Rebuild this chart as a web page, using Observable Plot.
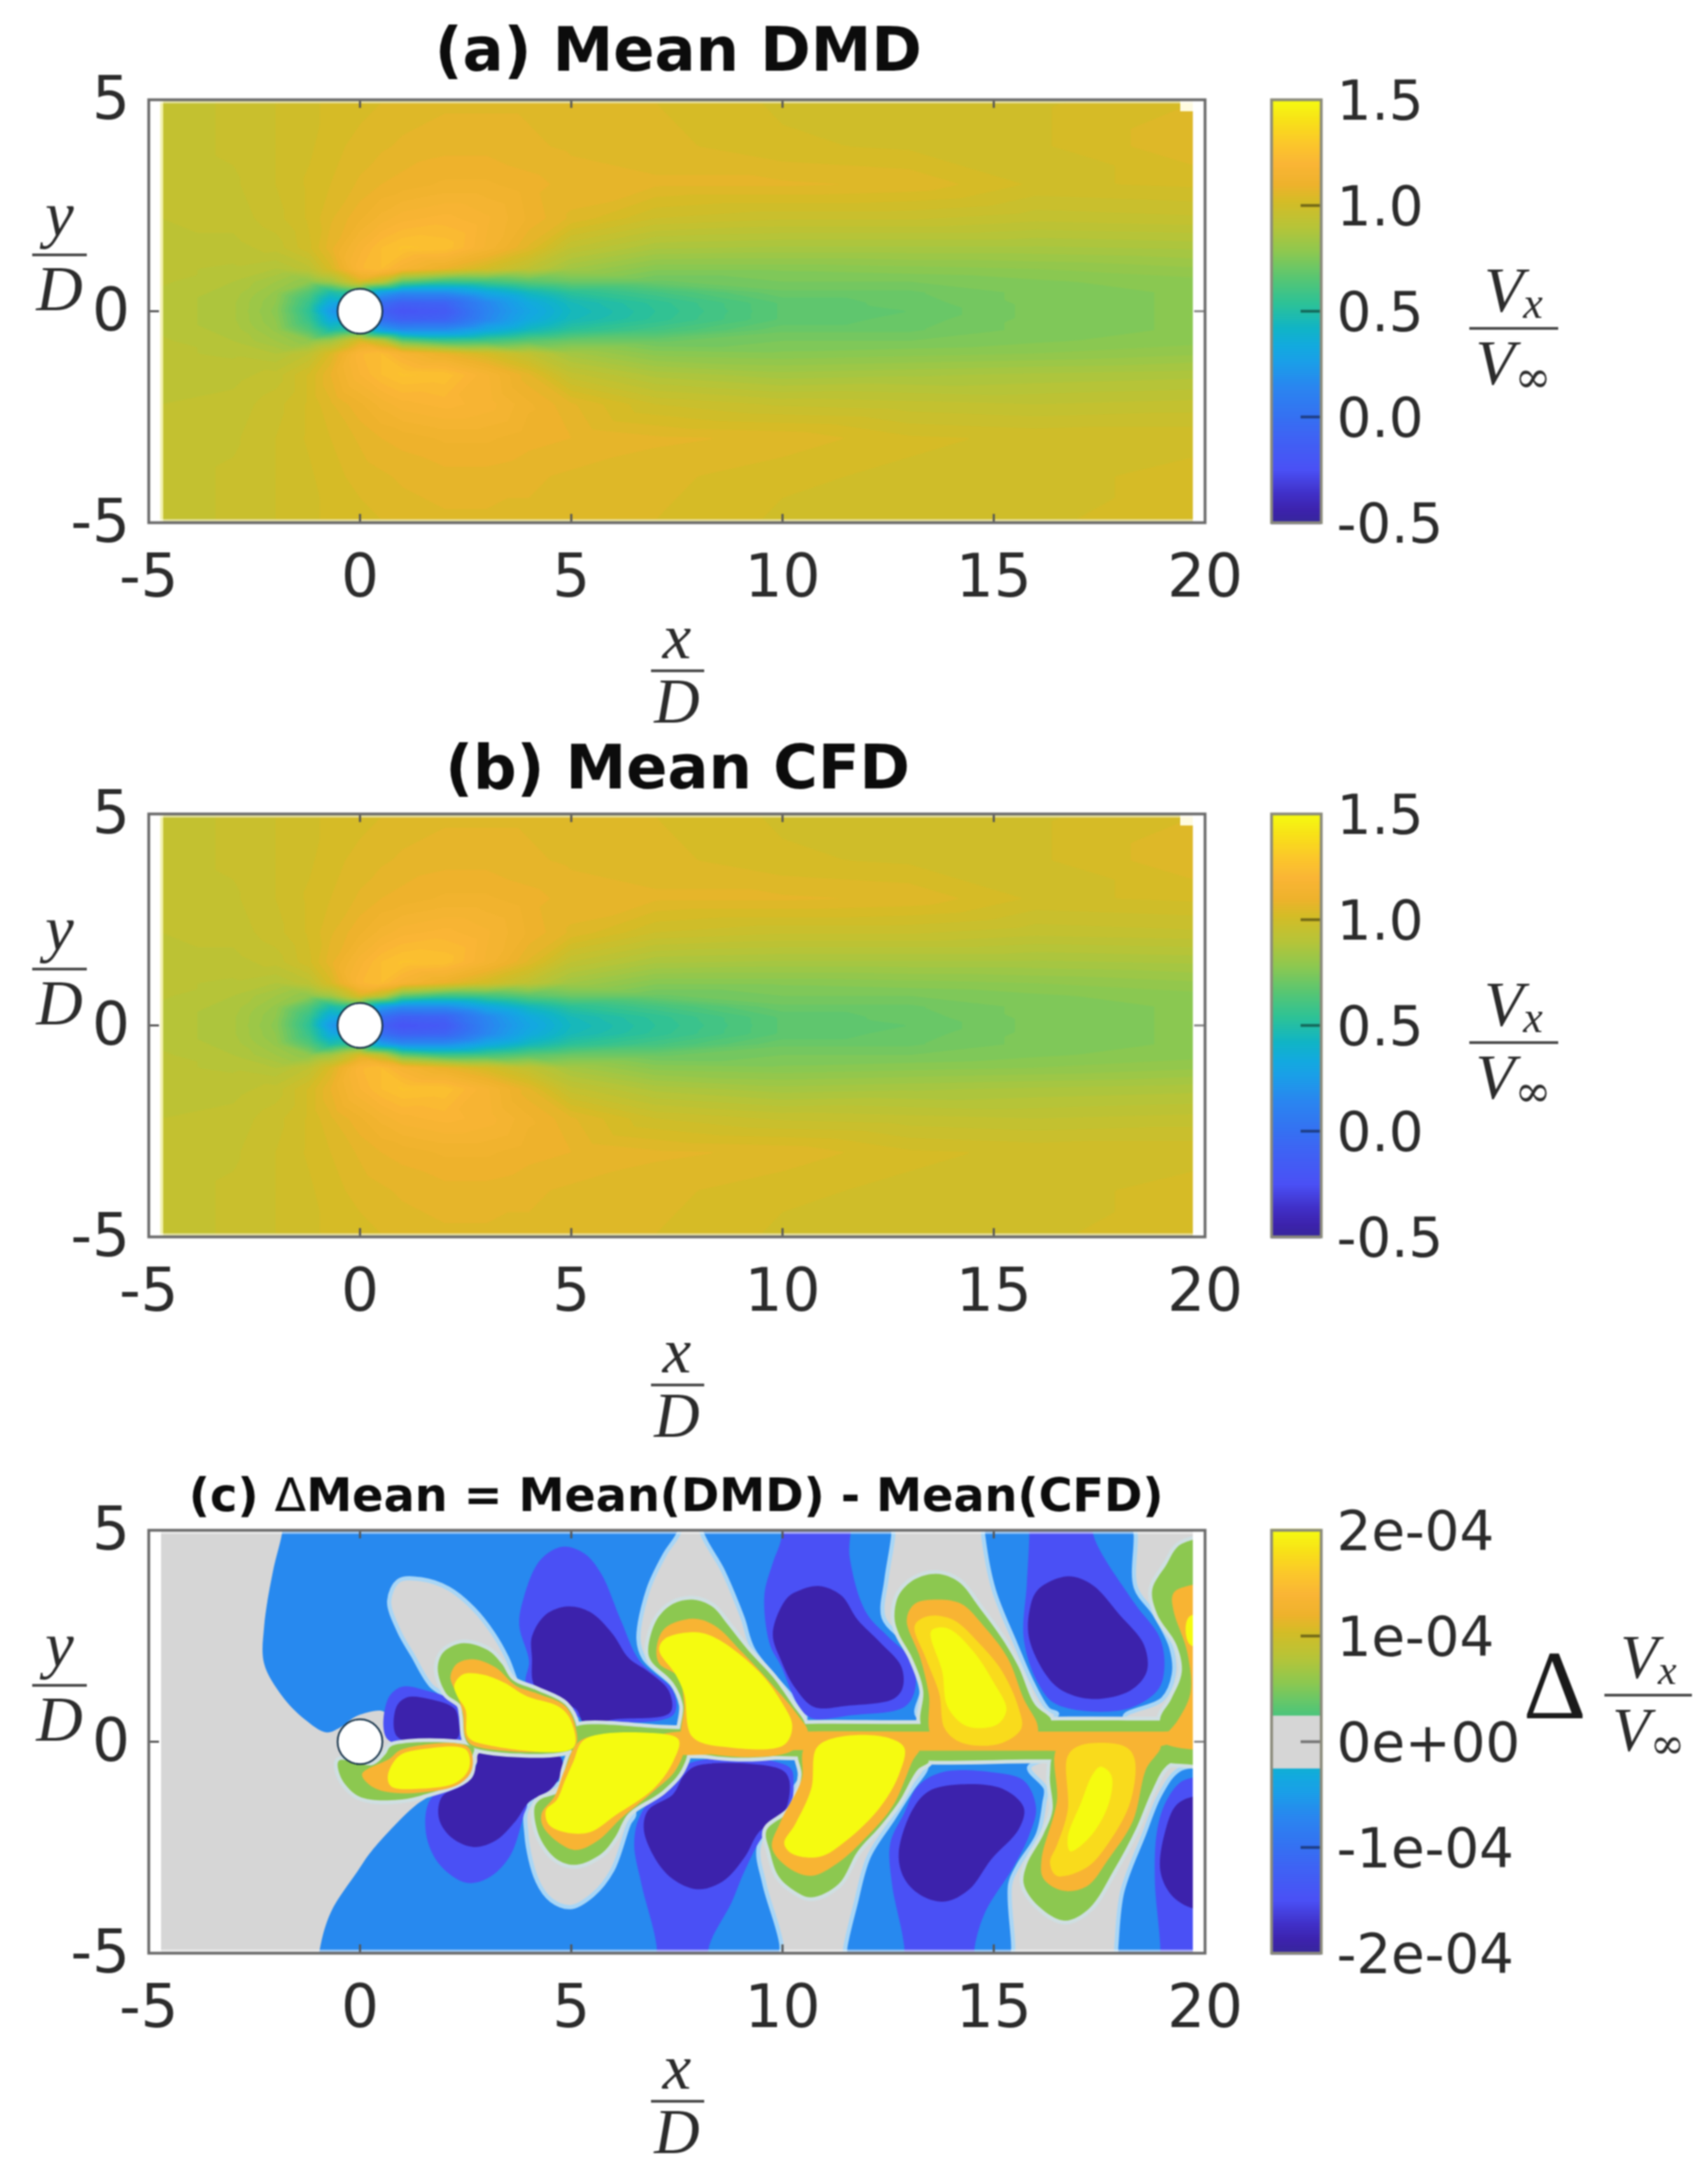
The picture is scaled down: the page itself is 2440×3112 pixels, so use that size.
<!DOCTYPE html>
<html><head><meta charset="utf-8">
<script src="https://cdn.jsdelivr.net/npm/d3@7"></script>
<script src="https://cdn.jsdelivr.net/npm/@observablehq/plot@0.6"></script>
<style>
html,body{margin:0;padding:0;background:#fff}
#page{position:relative;width:2440px;height:3112px;overflow:hidden;filter:blur(1.1px)}
#page svg{position:absolute;overflow:visible;background:transparent}
.t{position:absolute;white-space:nowrap;transform:translateX(-50%);color:#2b2b2b}
.title{font-family:"DejaVu Sans";font-weight:bold;color:#0c0c0c}
.m{font-family:"Liberation Serif";font-style:italic}
.bar{position:absolute;background:#4a4a4a;height:4px}
</style></head><body><div id="page"></div>
<script>
// ---------- axes ----------
const xTicks=[-5,0,5,10,15,20];
const yTicks=[-5,0,5];
const meanTicks=[-0.5,0,0.5,1,1.5];
const meanLabels=["-0.5","0.0","0.5","1.0","1.5"];
const deltaTicks=[-2e-4,-1e-4,0,1e-4,2e-4];
const deltaLabels=["-2e-04","-1e-04","0e+00","1e-04","2e-04"];
// ---------- colormap stops (fraction of the colour bar, colour) ----------
const cmapT=[0,0.03,0.07,0.125,0.2,0.25,0.32,0.38,0.42,0.46,0.52,0.58,0.64,0.7,0.76,0.8,0.85,0.9,0.95,1];
const cmapC=["#36269a","#3c22ac","#4030c8","#4a50f5","#3f62f4","#3570f2","#2a85f0","#1a9ee8","#12aade","#10b4c6","#2dc296","#58c672","#8cc850","#b6c438","#d4bc26","#eeb22c","#fab535","#fbc82a","#f8e018","#f5fb10"];
// ---------- panels (a), (b): mean velocity read on a non-uniform grid ----------
const fieldXs=[-4.7,-3,-2,-1.2,-0.7,0,0.5,1,2,3,4,5,7,10,13,16,19.73];
const fieldYs=[4.93,3.9,3,2.2,1.5,1,0.7,0.45,0.2,0,-0.2,-0.45,-0.7,-1,-1.5,-2.2,-3,-3.9,-4.93];
const row01=[.96,.98,1.00,1.02,1.03,1.04,1.05,1.06,1.07,1.07,1.07,1.06,1.05,1.02,1.02,1.02,1.05];
const row02=[.96,.98,1.00,1.02,1.04,1.06,1.07,1.08,1.09,1.09,1.08,1.07,1.06,1.03,1.02,1.02,1.07];
const row03=[.96,.97,1.00,1.03,1.05,1.08,1.10,1.11,1.13,1.13,1.11,1.09,1.08,1.08,1.07,1.02,1.03];
const row04=[.95,.96,.99,1.03,1.07,1.12,1.16,1.19,1.21,1.18,1.12,1.07,1.00,.98,.98,.96,.97];
const row05=[.94,.94,.96,1.02,1.09,1.19,1.25,1.28,1.27,1.17,1.07,.95,.88,.87,.87,.87,.88];
const row06=[.93,.92,.90,.94,1.04,1.22,1.25,1.18,1.10,1.02,.94,.85,.78,.78,.79,.80,.82];
const row07=[.93,.90,.85,.80,.85,1.05,.95,.70,.60,.62,.68,.72,.72,.75,.75,.77,.79];
const row08=[.92,.89,.82,.66,.50,.60,.30,.20,.20,.34,.46,.55,.62,.72,.72,.76,.78];
const row09=[.92,.88,.80,.58,.35,.20,.00,-.10,-.08,.16,.35,.47,.56,.68,.71,.76,.78];
const row10=[.92,.88,.79,.55,.25,.00,-.10,-.20,-.15,.14,.32,.45,.55,.68,.70,.76,.78];
const row11=[.92,.88,.80,.58,.35,.20,.00,-.10,-.08,.16,.35,.47,.56,.68,.71,.76,.78];
const row12=[.92,.89,.82,.66,.50,.60,.30,.20,.20,.34,.46,.55,.62,.72,.72,.76,.78];
const row13=[.93,.90,.85,.80,.85,1.05,.95,.70,.60,.62,.68,.72,.72,.75,.75,.77,.79];
const row14=[.93,.92,.90,.95,1.05,1.22,1.25,1.18,1.10,1.03,.95,.86,.79,.78,.79,.80,.82];
const row15=[.94,.94,.96,1.03,1.10,1.20,1.25,1.28,1.27,1.18,1.08,.96,.89,.86,.87,.88,.89];
const row16=[.95,.96,.99,1.03,1.07,1.12,1.16,1.19,1.21,1.19,1.13,1.08,1.00,.97,.96,.95,.96];
const row17=[.96,.97,1.00,1.03,1.05,1.08,1.10,1.11,1.13,1.13,1.11,1.10,1.08,1.07,1.03,1.02,1.02];
const row18=[.96,.98,1.00,1.02,1.04,1.06,1.07,1.08,1.09,1.09,1.08,1.07,1.06,1.03,1.02,1.02,1.03];
const row19=[.96,.98,1.00,1.02,1.03,1.04,1.05,1.06,1.07,1.07,1.07,1.06,1.05,1.02,1.02,1.02,1.04];
const fieldRows=[row01,row02,row03,row04,row05,row06,row07,row08,row09,row10,row11,row12,row13,row14,row15,row16,row17,row18,row19];
// ---------- panel (c): filled contour regions, [x,y] ----------
const blueTop=[[-1.75,5.6],[-1.85,4.9],[-2.06,4.03],[-2.27,2.72],[-2.27,1.85],[-1.85,1.09],[-1.32,.54],[-.79,.22],[-.48,.33],[-.05,.62],[.58,.7],[.64,.09],[3,.06],[12,.06],[21,.06],[21,5.6]];
const blueBottom=[[-1,-5.6],[-.95,-4.9],[-.69,-4.03],[-.05,-3.05],[.27,-2.59],[1.25,-1.56],[1.7,-1.25],[2.7,-.6],[3,-.1],[12,-.1],[21,-.1],[21,-5.6]];
const grayT1=[[.69,3.33],[.92,3.81],[1.45,3.84],[2.1,3.62],[2.69,3.14],[3.15,2.56],[3.48,1.98],[3.74,1.33],[3.9,1.1],[3.2,.6],[2.4,.5],[2.17,.98],[1.68,1.33],[1.25,2.04],[.92,2.62]];
const grayT2=[[7.6,5.7],[7.57,5],[7.21,4.42],[6.82,3.59],[6.59,2.43],[6.72,1.98],[7.35,1.4],[8,.8],[10.5,.5],[10.54,.63],[9.31,2.17],[9.05,2.94],[8.59,4.04],[8.07,5],[8.05,5.7]];
const grayT3=[[12.65,5.7],[12.62,4.87],[12.46,3.84],[12.39,2.94],[12.81,2.43],[13.2,1.78],[13.3,1.21],[13.2,.6],[16,.4],[16.5,.66],[16.29,.76],[15.91,1.4],[15.52,2.3],[15,3.59],[14.75,4.87],[14.7,5.7]];
const grayT4=[[18.3,5.7],[18.36,4.87],[18.36,3.65],[18.81,3.01],[19.2,2.23],[19.26,1.59],[19,1.01],[18.1,.6],[18.5,.3],[20.5,.3],[20.5,5.7]];
const grayB1=[[4,-1.5],[3.94,-2.2],[4.2,-3.3],[4.53,-3.75],[4.99,-3.91],[5.51,-3.62],[5.97,-3.04],[6.36,-1.95],[6.49,-1.69],[5.51,-.79]];
const grayB2=[[10,-5.7],[9.97,-4.77],[9.57,-3.36],[9.44,-2.46],[10,-1.5],[11,-.4],[13.4,-.5],[13.39,-.66],[13.07,-1.11],[12.62,-1.82],[12.04,-2.72],[11.72,-3.87],[11.49,-4.84],[11.4,-5.7]];
const grayB3=[[15.45,-5.7],[15.46,-4.84],[15.39,-3.36],[15.59,-2.91],[16.04,-2.2],[16.2,-1.43],[16.23,-1.11],[15.84,-.6],[19,-.3],[20.3,-.5],[19.39,-.66],[18.94,-1.24],[18.55,-2.2],[18.04,-3.55],[17.9,-4.84],[17.85,-5.7]];
const mid0=[[.66,1.01],[.99,1.3],[1.58,1.21],[2.17,.98],[2.4,.63],[2.4,.05],[.66,.05]];
const navy0=[[.86,.82],[1.12,1.05],[1.64,1.01],[2.23,.79],[2.33,.5],[2.3,.08],[.89,.11]];
const mid1=[[4.79,4.61],[4.26,4.29],[3.87,3.39],[3.77,2.75],[4,1.91],[3.94,1.33],[4.99,.63],[7.41,.63],[7.41,1.2],[6.62,1.91],[6.17,2.88],[5.71,3.97],[5.31,4.45]];
const navy1=[[4.07,1.98],[4.07,2.49],[4.4,3.01],[4.92,3.2],[5.44,3.07],[5.97,2.56],[6.36,1.98],[6.82,1.66],[7.31,1.2],[7.34,.69],[6.03,.53],[5.31,.43],[5.12,.76],[4.72,.95],[4.13,1.33]];
const mid2=[[9.97,5.7],[9.97,4.81],[9.77,4.23],[9.57,3.46],[9.7,2.3],[9.97,1.78],[10.36,.88],[10.68,.56],[11.65,.63],[12.88,.82],[13.13,1.21],[13.07,1.91],[12.49,2.49],[11.97,3.07],[11.59,4.36],[11.55,5.7]];
const navy2=[[10.1,3.39],[10.43,3.59],[10.88,3.68],[11.39,3.46],[11.78,2.88],[12.3,2.36],[12.81,1.78],[12.84,1.27],[12.62,1.01],[11.52,.85],[10.75,.82],[10.3,1.27],[9.97,1.91],[9.77,2.56]];
const mid3=[[15.84,5.7],[15.84,4.87],[15.78,3.71],[15.71,2.43],[16.04,1.4],[16.49,.88],[18.1,.76],[18.87,1.21],[19.03,1.66],[18.94,2.43],[18.29,3.33],[17.36,4.87],[17.3,5.7]];
const navy3=[[15.84,3.07],[16.04,3.59],[16.75,3.91],[17.33,3.71],[17.97,3.01],[18.55,2.3],[18.62,1.66],[18.23,1.21],[17.33,1.01],[16.62,1.21],[16.23,1.59],[15.84,2.43]];
const midB1=[[1.71,-1.3],[1.55,-2.07],[1.84,-2.85],[2.5,-3.33],[3.02,-3.23],[3.54,-2.72],[3.87,-1.75],[3.94,-1.43],[2.89,-.79]];
const navyB1=[[2.82,-.27],[4.72,-.34],[4.79,-.66],[4.53,-1.11],[4,-1.43],[3.68,-1.88],[3.22,-2.33],[2.69,-2.49],[2.17,-2.27],[1.87,-1.82],[1.94,-1.3],[2.5,-.98],[2.76,-.53]];
const midB2=[[7,-5.7],[7.02,-4.84],[6.66,-3.36],[6.49,-2.4],[6.66,-1.69],[7.74,-.53],[10.16,-.6],[10.26,-.98],[10.1,-1.82],[9.57,-2.2],[9.11,-3.04],[8.79,-3.81],[8.26,-4.84],[8.2,-5.7]];
const navyB2=[[6.72,-2.1],[7.08,-2.91],[7.48,-3.3],[8,-3.49],[8.59,-3.3],[9.11,-2.72],[9.44,-2.14],[10.03,-1.69],[10.16,-.92],[9.97,-.66],[8,-.56],[7.67,-.79],[7.41,-1.24],[6.82,-1.62]];
const midB3=[[12.88,-5.7],[12.88,-4.84],[12.59,-3.36],[12.55,-2.4],[12.88,-1.69],[13.2,-1.05],[13.78,-.72],[14.94,-.72],[15.71,-.92],[16,-1.56],[15.84,-2.2],[15.46,-2.97],[14.81,-4],[14.55,-4.84],[14.5,-5.7]];
const navyB3=[[12.75,-2.65],[13.07,-1.62],[13.46,-1.17],[14.17,-1.01],[15.2,-1.11],[15.71,-1.56],[15.59,-2.07],[14.94,-2.78],[14.42,-3.49],[13.84,-3.78],[13.26,-3.62],[12.88,-3.23]];
const midB4=[[18.94,-5.7],[18.94,-4.84],[18.81,-3.23],[18.87,-2.07],[19.07,-1.43],[19.39,-.98],[19.71,-.85],[20.5,-.8],[20.5,-5.7]];
const navyB4=[[19.71,-1.3],[19.32,-1.5],[19.07,-2.07],[18.94,-3.04],[19.2,-3.62],[19.71,-3.94],[20.5,-3.98],[20.5,-1.3]];
const greenU1=[[1.84,1.72],[1.97,2.11],[2.43,2.33],[3.02,2.17],[3.35,1.85],[3.61,1.46],[4.2,1.21],[4.85,.88],[5.12,.37],[5.08,-.14],[2.69,-.14],[2.5,.05],[2.43,.63],[2.37,.88],[2.04,1.14]];
const greenL0=[[-.5,-.45],[-.45,-.85],[-.1,-1.25],[.27,-1.37],[.92,-1.37],[1.45,-1.27],[2.56,-.82],[2.66,-.34],[2.69,-.14],[.75,-.1],[.6,-.3],[.3,-.55]];
const greenL1=[[4.13,-1.56],[4.26,-2.27],[4.66,-2.78],[5.12,-2.91],[5.71,-2.65],[6.03,-2.27],[6.36,-1.69],[7.15,-1.17],[7.61,-.66],[7.71,-.14],[5.25,.05],[4.99,-.27],[4.85,-.66],[4.72,-1.17],[4.26,-1.37]];
const greenU2=[[6.82,2.17],[7.02,2.88],[7.41,3.26],[7.87,3.36],[8.33,3.2],[8.72,2.75],[9.18,2.17],[9.77,1.53],[10.23,.88],[10.54,.37],[10.3,-.2],[7.64,-.1],[7.64,.88],[7.41,1.4],[6.89,1.91]];
const greenSpine=[[5,.3],[7.6,.3],[10.5,.42],[13.3,.42],[16.3,.5],[19,.5],[20.6,.5],[20.6,-.47],[19.4,-.52],[18.7,-.45],[16,-.42],[13.8,-.45],[10.5,-.35],[7.7,-.3],[5,-.2]];
const greenU3=[[12.65,2.94],[12.75,3.46],[13.13,3.84],[13.65,3.97],[14.17,3.78],[14.68,3.14],[15.2,2.43],[15.58,1.78],[15.97,.88],[16.36,.5],[16,.1],[13.4,.1],[13.26,.5],[13.33,1.21],[13.07,1.98],[12.75,2.56]];
const greenL2=[[9.62,-2.1],[9.7,-2.59],[9.9,-3.17],[10.25,-3.5],[10.68,-3.68],[11.33,-3.36],[11.78,-2.59],[12.3,-2.01],[12.75,-1.43],[13.2,-.66],[13.46,-.47],[13,-.2],[10.4,-.2],[10.45,-.8],[10.2,-1.6]];
const greenL3=[[15.71,-3.36],[16.04,-3.87],[16.68,-4.23],[17.26,-3.94],[17.84,-3.04],[18.36,-2.07],[18.74,-1.17],[19.07,-.59],[19.71,-.21],[16.49,-.21],[16.33,-.79],[16.39,-1.62],[16.17,-2.2],[15.78,-2.91]];
const greenU4=[[19.45,4.68],[19.07,4.16],[18.75,3.59],[18.87,3.01],[19.32,2.3],[19.45,1.66],[19.2,1.01],[18.94,.56],[19,.2],[20.6,.2],[20.6,4.68]];
const orangeU1=[[2.14,1.53],[2.3,1.85],[2.69,1.95],[3.22,1.75],[3.68,1.33],[4.2,1.14],[4.85,.85],[5.1,.35],[5.08,-.1],[2.7,-.1],[2.5,.1],[2.43,.7],[2.3,1.1]];
const orangeL0=[[.05,-.76],[.7,-.4],[1,-.18],[2.55,-.12],[2.65,-.65],[2.35,-1],[1.45,-1.2],[.6,-1.18],[.2,-1]];
const orangeL1=[[4.3,-1.69],[4.33,-2],[4.72,-2.4],[5.12,-2.56],[5.64,-2.33],[6.17,-1.82],[6.95,-1.17],[7.48,-.66],[7.64,-.02],[5.25,.05],[4.85,-.66],[4.6,-1.3]];
const orangeU2=[[7.02,2.23],[7.21,2.68],[7.87,2.91],[8.39,2.75],[9.05,2.11],[9.77,1.33],[10.36,.63],[10.6,.2],[10.1,-.27],[7.67,-.05],[7.67,.88],[7.54,1.53],[7.08,1.85]];
const orangeSpine=[[7,.1],[10.5,.24],[13.3,.24],[16.3,.24],[19,.24],[20.6,.24],[20.6,-.05],[19.2,-.05],[18.6,-.2],[16,-.21],[13.3,-.21],[10.4,-.2],[7,-.2]];
const orangeL2=[[9.75,-2.5],[10.1,-2.95],[10.68,-3.17],[11.33,-2.85],[11.97,-2.27],[12.62,-1.5],[13.07,-.47],[13.26,-.1],[10.56,-.1],[10.45,-.9],[9.95,-1.9]];
const orangeU3=[[12.94,2.88],[13.13,3.26],[13.65,3.36],[14.23,3.26],[14.75,2.75],[15.33,1.98],[15.71,1.01],[16.04,.37],[15.97,.05],[13.59,.05],[13.46,1.14],[13.26,1.98]];
const orangeL3=[[16.13,-2.78],[16.17,-3.23],[16.62,-3.52],[17.2,-3.42],[17.71,-2.78],[18.29,-1.88],[18.6,-.66],[18.94,-.08],[16.55,-.08],[16.49,-1.43]];
const orangeU4=[[19.23,3.46],[19.39,3.62],[20.6,3.62],[20.6,0],[19,0],[19.35,.5],[19.65,1.14],[19.58,2.11],[19.26,3.07]];
const goldU3=[[13.13,2.75],[13.46,2.97],[14.04,2.88],[14.68,2.3],[15.2,1.66],[15.58,.82],[15.65,.31],[15.13,-.05],[14.23,-.02],[13.84,.31],[13.71,1.14],[13.39,1.98]];
const goldL3=[[16.75,-.34],[17.07,-.08],[18.1,-.11],[18.33,-.4],[18.23,-1.43],[17.71,-2.4],[17.2,-2.97],[16.49,-3.17],[16.33,-2.85],[16.49,-2.46],[16.75,-1.62]];
const yellowU1=[[2.23,1.33],[2.43,1.59],[2.89,1.59],[3.41,1.4],[3.94,1.08],[4.72,.82],[4.99,.5],[5.05,-.14],[3.02,-.08],[2.56,.11],[2.5,.75],[2.3,1.08]];
const yellowL0=[[.66,-.79],[.92,-.34],[1.45,-.18],[2.5,-.18],[2.59,-.59],[2.3,-.95],[1.45,-1.11],[.73,-1.05]];
const yellowL1=[[4.4,-1.62],[4.46,-1.95],[4.85,-2.14],[5.44,-2.14],[6.03,-1.75],[6.95,-1.11],[7.41,-.47],[7.54,.05],[6.82,.21],[5.31,.05],[5.05,-.47],[4.85,-.92],[4.66,-1.37]];
const yellowU2=[[7.08,2.17],[7.21,2.43],[7.93,2.59],[8.46,2.43],[9.44,1.66],[9.97,.95],[10.23,.37],[10.03,-.08],[8.79,-.14],[7.87,.11],[7.67,1.14],[7.47,1.59]];
const yellowL2=[[10.81,-.14],[11.33,.11],[12.43,.11],[12.88,-.14],[12.75,-.79],[12.3,-1.56],[11.52,-2.33],[10.88,-2.72],[10.23,-2.65],[10.04,-2.4],[10.3,-1.95],[10.68,-1.11]];
const yellowU3=[[13.52,2.62],[13.91,2.68],[14.49,2.17],[15,1.4],[15.3,.76],[15.07,.4],[14.36,.37],[13.91,.82],[13.78,1.66]];
const yellowL3=[[17.52,-.59],[17.78,-.79],[17.71,-1.5],[17.26,-2.27],[16.81,-2.59],[16.75,-2.27],[17.07,-1.43],[17.33,-.79]];
const yellowU4=[[19.62,2.95],[20.6,2.95],[20.6,2.3],[19.64,2.3]];
// level of each group of regions (value on the colour bar)
const grayLevel=0, greenLevel=.56e-4, orangeLevel=1.36e-4, goldLevel=1.76e-4, yellowLevel=2e-4, blueLevel=-.68e-4, midLevel=-1.5e-4, navyLevel=-1.88e-4;
const grays=[grayT1,grayT2,grayT3,grayT4,grayB1,grayB2,grayB3];
const regionGroups=[
 [blueLevel,[blueTop,blueBottom]],
 [grayLevel,grays]];
const deepGroups=[
 [midLevel,[mid0,mid1,mid2,mid3,midB1,midB2,midB3,midB4]],
 [navyLevel,[navy0,navy1,navy2,navy3,navyB1,navyB2,navyB3,navyB4]]];
const greens=[greenU1,greenL0,greenL1,greenU2,greenSpine,greenU3,greenL2,greenL3,greenU4];
const topGroups=[
 [greenLevel,greens],
 [orangeLevel,[orangeU1,orangeL0,orangeL1,orangeU2,orangeSpine,orangeL2,orangeU3,orangeL3,orangeU4]],
 [goldLevel,[goldU3,goldL3]],
 [yellowLevel,[yellowU1,yellowL0,yellowL1,yellowU2,yellowL2,yellowU3,yellowL3,yellowU4]]];

const flat=(groups)=>{let id=0;return groups.flatMap(([v,list])=>list.flatMap(pts=>{id++;const z=id;return pts.map(([x,y])=>({x,y,v,z}))}));};
const W=1790,PL=212,PR=69,PH=604,MT=110,MB=160;
const page=document.getElementById("page");
const meanColor={type:"linear",domain:cmapT.map(t=>-0.5+2*t),range:cmapC,clamp:true};
const grayEdge=0.26e-4;
const deltaDomain=cmapT.map(t=>(t-.5)*4e-4);
const dPairs=deltaDomain.map((d,i)=>[d,cmapC[i]]).filter(([d])=>Math.abs(d)>grayEdge);
const cmapAt=d3.scaleLinear().domain(deltaDomain).range(cmapC);
const deltaColor={type:"linear",clamp:true,
 domain:[...dPairs.filter(p=>p[0]<0).map(p=>p[0]),-grayEdge,-grayEdge*.999,grayEdge*.999,grayEdge,...dPairs.filter(p=>p[0]>0).map(p=>p[0])],
 range:[...dPairs.filter(p=>p[0]<0).map(p=>p[1]),cmapAt(-grayEdge),"#d6d6d6","#d6d6d6",cmapAt(grayEdge),...dPairs.filter(p=>p[0]>0).map(p=>p[1])]};

function frameMarks(notch){
 const w="#ffffff";
 const out=[
  Plot.rect([0],{x1:-5,x2:-4.72,y1:-5,y2:5,fill:w}),
  Plot.rect([0],{x1:19.72,x2:20,y1:-5,y2:5,fill:w}),
  Plot.ruleY([4.95,-4.95],{stroke:w,strokeOpacity:.55,strokeWidth:4}),
  Plot.dot([{x:0,y:0}],{x:"x",y:"y",r:32,fill:"white",stroke:"#16334a",strokeWidth:2.5}),
  Plot.ruleX([0,5,10,15],{y1:-5,y2:-4.8,stroke:"#555",strokeWidth:3}),
  Plot.ruleX([0,5,10,15],{y1:5,y2:4.8,stroke:"#555",strokeWidth:3}),
  Plot.ruleY([0],{x1:-5,x2:-4.75,stroke:"#555",strokeWidth:3}),
  Plot.ruleY([0],{x1:20,x2:19.75,stroke:"#888",strokeWidth:3}),
  Plot.frame({stroke:"#6a6a6a",strokeWidth:4}),
  Plot.axisX(xTicks,{anchor:"bottom",tickSize:0,tickPadding:45,fontSize:85,tickFormat:String,label:null,fill:"#2b2b2b"}),
  Plot.axisY(yTicks,{anchor:"left",tickSize:0,tickPadding:27,fontSize:85,tickFormat:String,label:null,fill:"#2b2b2b"})];
 if(notch) out.unshift(Plot.rect([0],{x1:19.42,x2:19.8,y1:4.72,y2:5,fill:"#fffbe0"}));
 return out;
}
function place(svg,left,top){svg.style.left=left+"px";svg.style.top=top+"px";page.appendChild(svg);}
function mainPlot(top,color,marks){
 const svg=Plot.plot({width:W,height:MT+PH+MB,marginLeft:PL,marginRight:PR,marginTop:MT,marginBottom:MB,
  style:{fontFamily:"DejaVu Sans",background:"transparent",overflow:"visible"},
  x:{domain:[-5,20],axis:null},y:{domain:[-5,5],axis:null},color,marks});
 place(svg,0,top-MT);
}
function colorBar(top,color,dom,stops,ticks,labels,sw){
 const svg=Plot.plot({width:660,height:MT+PH+MB,marginLeft:36,marginRight:553,marginTop:MT,marginBottom:MB,
  style:{fontFamily:"DejaVu Sans",background:"transparent",overflow:"visible"},
  y:{domain:dom,axis:null},color,marks:[
   Plot.ruleY(stops,{y:d=>d,stroke:d=>d,strokeWidth:sw}),
   Plot.ruleY(ticks.slice(1,-1),{y:d=>d,stroke:"#000",strokeOpacity:.45,strokeWidth:4,insetLeft:42}),
   Plot.frame({stroke:"#8a8a7a",strokeWidth:4}),
   Plot.axisY(ticks,{anchor:"right",tickSize:0,tickPadding:22,dy:4,fontSize:78,tickFormat:(d)=>labels[ticks.indexOf(d)],label:null,textAnchor:"start",fill:"#2b2b2b"})
  ]});
 place(svg,1780,top-MT);
}
function field(){return fieldYs.flatMap((y,j)=>fieldXs.map((x,i)=>({x,y,v:fieldRows[j][i]})));}
const thresholds=d3.range(-0.5,1.52,0.025);
function meanMarks(){return [
  Plot.contour(field(),{x:"x",y:"y",value:"v",fill:"value",thresholds,interpolate:"barycentric",pixelSize:2}),
  Plot.ruleX([-4.7],{stroke:"#f3f2b0",strokeWidth:5}),
  ...frameMarks(true)];}
const meanStops=d3.range(-0.5,1.5,0.01);
const deltaStops=d3.range(-2e-4,2e-4,2e-6);

function txt(cls,html,cx,base,size,extra=""){const d=document.createElement("div");d.className="t "+cls;d.innerHTML=html;
 d.style.cssText=`left:${cx}px;top:${base-size*.84}px;font-size:${size}px;line-height:${size}px;${extra}`;page.appendChild(d);}
function bar(x1,x2,y){const d=document.createElement("div");d.className="bar";d.style.cssText=`left:${x1}px;width:${x2-x1}px;top:${y-2}px`;page.appendChild(d);}
function axisFractions(top){
 const c=top+302;
 txt("m","x",967,top+798,92);bar(930,1006,top+816);txt("m","D",967,top+891,90);
 txt("m","y",85,c-107,92);bar(46,124,c-80);txt("m","D",85,c-1,92);
}
function vFrac(cx,lineY,x1,x2,size){
 const sub=Math.round(size*.68);
 txt("m",`V<span style="font-size:${sub}px;position:relative;top:${size*.1}px">x</span>`,cx,lineY-24,size);
 bar(x1,x2,lineY);
 txt("m",`V<span style="font-size:${sub}px;font-family:'DejaVu Serif';font-style:normal;position:relative;top:${size*.12}px">∞</span>`,cx,lineY+80,size);
}
// ---- panel a ----
const topA=142,topB=1162,topC=2185;
mainPlot(topA,meanColor,meanMarks());
colorBar(topA,meanColor,[-0.5,1.5],meanStops,meanTicks,meanLabels,4);
txt("title","(a) Mean DMD",969,101,87);axisFractions(topA);vFrac(2162,topA+327,2099,2226,92);
// ---- panel b ----
mainPlot(topB,meanColor,meanMarks());
colorBar(topB,meanColor,[-0.5,1.5],meanStops,meanTicks,meanLabels,4);
txt("title","(b) Mean CFD",968,1126,87);axisFractions(topB);vFrac(2162,topB+327,2099,2226,92);
// ---- panel c ----
mainPlot(topC,deltaColor,[
 Plot.rect([0],{x1:-4.7,x2:19.73,y1:-5,y2:5,fill:()=>grayLevel}),
 Plot.line(flat(regionGroups),{x:"x",y:"y",z:"z",fill:"v",stroke:"none",curve:"catmull-rom-closed",clip:true}),
 Plot.line(flat([[grayLevel,grays]]),{x:"x",y:"y",z:"z",fill:"none",stroke:"#a8d6f6",strokeWidth:6,curve:"catmull-rom-closed",clip:true}),
 Plot.line(flat(deepGroups),{x:"x",y:"y",z:"z",fill:"v",stroke:"none",curve:"catmull-rom-closed",clip:true}),
 Plot.line(flat([[greenLevel,greens]]),{x:"x",y:"y",z:"z",fill:"none",stroke:"#cfdfe2",strokeWidth:11,curve:"catmull-rom-closed",clip:true}),
 Plot.line(flat(topGroups),{x:"x",y:"y",z:"z",fill:"v",stroke:"none",curve:"catmull-rom-closed",clip:true}),
 ...frameMarks(false)]);
colorBar(topC,deltaColor,[-2e-4,2e-4],deltaStops,deltaTicks,deltaLabels,4);
txt("title",'(c) <span style="font-weight:normal">Δ</span>Mean = Mean(DMD) - Mean(CFD)',966,2158,66);
axisFractions(topC);
txt("",'Δ',2221,2455,140,"font-family:'Liberation Serif';color:#1a1a1a");
vFrac(2355,2421,2292,2417,88);
</script></body></html>
